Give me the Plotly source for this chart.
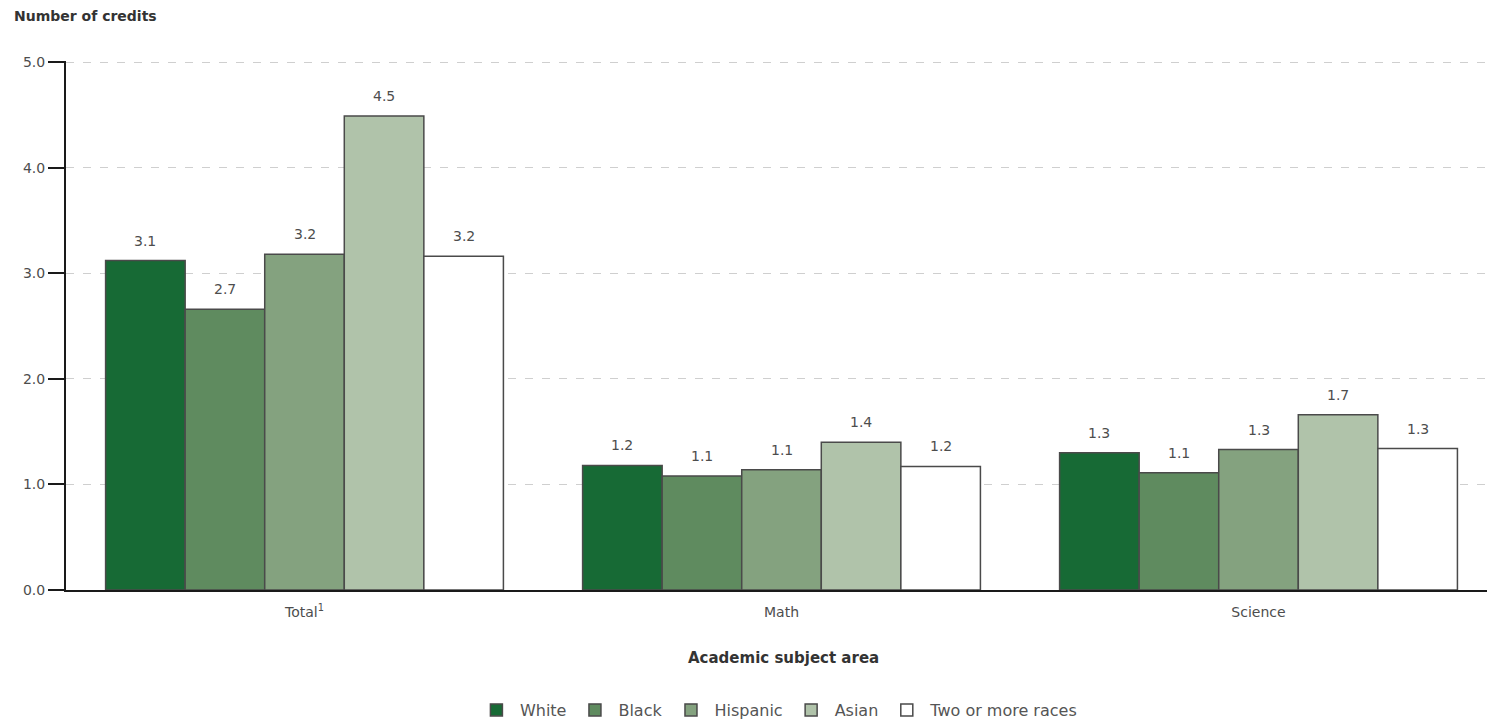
import plotly.graph_objects as go

# Subject areas on the x axis
subjects = ["Total<sup>1</sup>", "Math", "Science"]

# Average number of credits earned, by race/ethnicity
white = [3.12, 1.18, 1.30]
black = [2.66, 1.08, 1.11]
hispanic = [3.18, 1.14, 1.33]
asian = [4.49, 1.40, 1.66]
two_or_more = [3.16, 1.17, 1.34]

series_names = ["White", "Black", "Hispanic", "Asian", "Two or more races"]
series_values = [white, black, hispanic, asian, two_or_more]
series_colors = ["#176a35", "#5f8b5f", "#84a27f", "#b0c3aa", "#ffffff"]

y_ticks = [0, 1, 2, 3, 4, 5]
y_tick_labels = ["0.0", "1.0", "2.0", "3.0", "4.0", "5.0"]

FONT = "DejaVu Sans"
BARGAP = 0.166

fig = go.Figure()
for name, vals, color in zip(series_names, series_values, series_colors):
    fig.add_trace(go.Bar(
        name=name,
        x=subjects,
        y=vals,
        marker=dict(color=color, line=dict(color="#4a4a4a", width=1.5)),
    ))

# Value labels above each bar
n = len(series_names)
bar_w = (1 - BARGAP) / n
annotations = []
for i, vals in enumerate(series_values):
    for j, v in enumerate(vals):
        annotations.append(dict(
            x=j + (i - (n - 1) / 2) * bar_w,
            y=v,
            xref="x", yref="y",
            text=f"{v:.1f}",
            showarrow=False,
            yanchor="bottom",
            yshift=10,
            font=dict(family=FONT, size=14, color="#4d4d4d"),
        ))

# Axis titles
annotations.append(dict(
    x=-0.038, y=1.086, xref="paper", yref="paper",
    xanchor="left", yanchor="middle", showarrow=False,
    text="<b>Number of credits</b>",
    font=dict(family=FONT, size=14, color="#333333"),
))
annotations.append(dict(
    x=0.5046, y=-0.129, xref="paper", yref="paper",
    xanchor="center", yanchor="middle", showarrow=False,
    text="<b>Academic subject area</b>",
    font=dict(family=FONT, size=15, color="#333333"),
))

fig.update_layout(
    width=1487,
    height=727,
    margin=dict(l=66, r=0, t=61, b=133),
    paper_bgcolor="white",
    plot_bgcolor="white",
    barmode="group",
    bargap=BARGAP,
    bargroupgap=0,
    font=dict(family=FONT, size=14, color="#4d4d4d"),
    annotations=annotations,
    showlegend=True,
    legend=dict(
        orientation="h",
        x=0.501, xanchor="center",
        y=-0.227, yanchor="middle",
        font=dict(family=FONT, size=16, color="#555555"),
        itemwidth=37,
        traceorder="normal",
    ),
    xaxis=dict(
        range=[-0.5, 2.479],
        showgrid=False,
        showline=True,
        linecolor="#1a1a1a",
        linewidth=2,
        ticks="",
        ticklabelstandoff=8,
        tickfont=dict(family=FONT, size=14, color="#4d4d4d"),
        zeroline=False,
    ),
    yaxis=dict(
        range=[0, 5.01],
        tickvals=y_ticks,
        ticktext=y_tick_labels,
        showline=True,
        linecolor="#1a1a1a",
        linewidth=2,
        ticks="outside",
        ticklen=16,
        tickwidth=2,
        tickcolor="#1a1a1a",
        showgrid=True,
        gridcolor="#cfcfcf",
        gridwidth=1,
        griddash="8px,9px",
        zeroline=False,
        tickfont=dict(family=FONT, size=14, color="#4d4d4d"),
    ),
)

fig.write_html("out.html")
